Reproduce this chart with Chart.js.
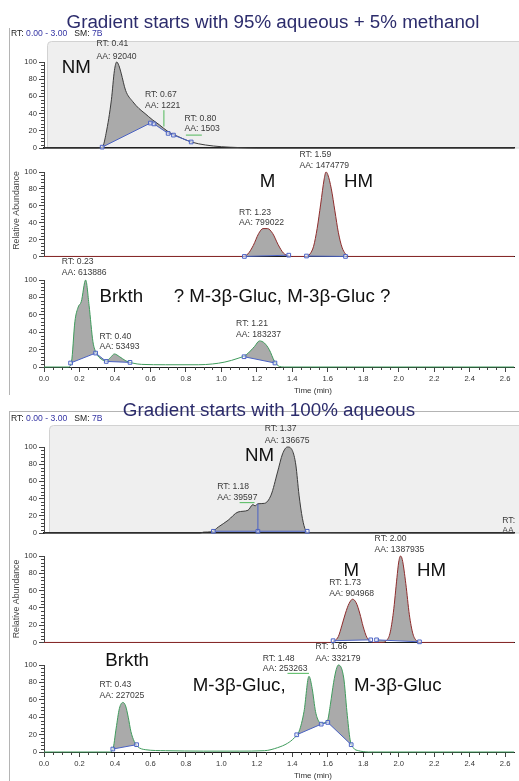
<!DOCTYPE html>
<html lang="en">
<head>
    <meta charset="UTF-8">
    <title>Chromatograms</title>
    <script src="https://cdn.jsdelivr.net/npm/chart.js"></script>
    <style>
        body { margin: 0; background: #fff; }
        #fig { position: relative; width: 519px; height: 781px; overflow: hidden; background: #fff; }
        .frame { position: absolute; border: 0 solid #b4b4b4; }
        #frameTop { left: 9px; top: 28px; width: 510px; height: 367px; border-left-width: 1px; }
        #frameBot { left: 9px; top: 411px; width: 510px; height: 370px; border-left-width: 1px; border-top-width: 1px; }
        .plot { position: absolute; left: 0; width: 519px; }
        canvas { display: block; }
    </style>
</head>
<body>
<div id="fig">
    <div class="frame" id="frameTop"></div>
    <div class="frame" id="frameBot"></div>
    <div class="plot" style="top:0px"><canvas id="p1"></canvas></div>
    <div class="plot" style="top:140px"><canvas id="p2"></canvas></div>
    <div class="plot" style="top:250px"><canvas id="p3"></canvas></div>
    <div class="plot" style="top:395px"><canvas id="p4"></canvas></div>
    <div class="plot" style="top:530px"><canvas id="p5"></canvas></div>
    <div class="plot" style="top:640px"><canvas id="p6"></canvas></div>
</div>

<script>
    // axis ticks
    const xTickValues = [0, 0.2, 0.4, 0.6, 0.8, 1.0, 1.2, 1.4, 1.6, 1.8, 2.0, 2.2, 2.4, 2.6];
    const xTickLabels = ['0.0', '0.2', '0.4', '0.6', '0.8', '1.0', '1.2', '1.4', '1.6', '1.8', '2.0', '2.2', '2.4', '2.6'];
    const yTickValues = [0, 20, 40, 60, 80, 100];
    const yTickLabels = ['0', '20', '40', '60', '80', '100'];

    // panel A: gradient starts with 95% aqueous + 5% methanol
    const timeA1 = [0, 0.30, 0.33, 0.35, 0.38, 0.397, 0.41, 0.422, 0.435, 0.46, 0.50, 0.535, 0.57, 0.61, 0.65, 0.70, 0.76, 0.83, 0.91, 1.0, 1.1, 1.2, 2.65];
    const absA1 = [0, 0, 1.5, 17, 56, 90, 100, 96, 87, 67, 54, 46, 40, 33, 27, 19, 13, 7, 3.5, 1.5, 0.5, 0, 0];
    const baseTimeA1 = [0.328, 0.60, 0.62, 0.70, 0.73, 0.83];
    const baseAbsA1 = [1, 29, 28, 17, 15, 7];

    const timeA2 = [0, 1.12, 1.15, 1.18, 1.21, 1.235, 1.26, 1.29, 1.32, 1.35, 1.38, 1.40, 1.48, 1.50, 1.52, 1.54, 1.56, 1.58, 1.59, 1.60, 1.62, 1.64, 1.66, 1.68, 1.70, 1.72, 2.65];
    const absA2 = [0, 0, 3, 13, 27, 33, 33, 27, 14, 4, 0.5, 0, 0, 3, 12, 33, 62, 92, 100, 97, 80, 54, 28, 11, 3, 0, 0];
    const baseTimeA2 = [1.13, 1.38, 1.38, 1.48, 1.70];
    const baseAbsA2 = [0, 1.5, null, 0.5, 0];

    const timeA3 = [0, 0.137, 0.155, 0.174, 0.193, 0.21, 0.235, 0.254, 0.276, 0.295, 0.323, 0.351, 0.375, 0.397, 0.425, 0.462, 0.50, 0.55, 0.685, 0.87, 0.95, 1.02, 1.094, 1.14, 1.187, 1.215, 1.243, 1.27, 1.30, 1.327, 1.355, 2.65];
    const absA3 = [0, 0, 6, 52, 69, 75, 100, 71, 29, 16, 9, 7, 11, 15, 12, 7, 4.5, 3, 2.6, 2.6, 3.5, 5.7, 10, 14, 23.6, 30, 27.5, 20, 6.4, 0.7, 0, 0];
    const baseTimeA3 = [0.15, 0.291, 0.351, 0.485, 0.485, 1.128, 1.302];
    const baseAbsA3 = [4.6, 16, 6.4, 5.3, null, 11.8, 4.6];

    // panel B: gradient starts with 100% aqueous
    const timeB1 = [0, 0.88, 0.90, 0.945, 0.983, 1.038, 1.094, 1.15, 1.178, 1.19, 1.206, 1.243, 1.28, 1.317, 1.345, 1.373, 1.40, 1.42, 1.438, 1.457, 1.475, 1.49, 2.65];
    const absB1 = [0, 0, 1, 1.5, 7, 14.8, 24.4, 26.4, 33, 31.5, 34, 34.5, 44, 71, 92, 100, 96, 79, 44, 17, 3, 0.5, 0];
    const baseTimeB1 = [0.955, 1.206, 1.484];
    const baseAbsB1 = [2, 2, 2];
    const splitTimeB1 = [1.206, 1.206];
    const splitAbsB1 = [2, 34];

    const timeB2 = [0, 1.62, 1.64, 1.66, 1.68, 1.70, 1.72, 1.74, 1.76, 1.78, 1.80, 1.82, 1.84, 1.86, 1.91, 1.93, 1.95, 1.97, 1.99, 2.00, 2.01, 2.02, 2.04, 2.06, 2.08, 2.10, 2.12, 2.65];
    const absB2 = [0, 0, 2, 7, 20, 34, 45, 50, 46, 34, 18, 6, 1.5, 0, 0, 2, 10, 35, 75, 93, 100, 96, 68, 32, 10, 2, 0, 0];
    const baseTimeB2 = [1.63, 1.842, 1.842, 1.875, 2.117];
    const baseAbsB2 = [2, 3, null, 3, 0.7];

    const timeB3 = [0, 0.37, 0.388, 0.407, 0.425, 0.445, 0.46, 0.475, 0.49, 0.509, 0.527, 0.574, 0.685, 0.9, 1.1, 1.243, 1.317, 1.373, 1.41, 1.438, 1.466, 1.494, 1.512, 1.531, 1.55, 1.568, 1.587, 1.60, 1.615, 1.633, 1.648, 1.66, 1.69, 1.708, 1.726, 1.745, 1.773, 1.80, 1.83, 2.65];
    const absB3 = [0, 0, 3, 27.5, 50, 57, 53, 40, 23.6, 12, 6.4, 2.6, 1.5, 1, 1, 1.5, 5, 10, 16, 23.6, 46.5, 87, 73, 46.5, 35, 33, 34, 37, 55, 80, 95, 100, 85, 46.5, 14, 4.6, 1.5, 0.5, 0, 0];
    const baseTimeB3 = [0.388, 0.522, 0.522, 1.425, 1.563, 1.60, 1.732];
    const baseAbsB3 = [3.4, 8.4, null, 19.8, 32, 34, 8.4];

    const xMax = 2.65;
    const FONT = '"Liberation Sans", Arial, sans-serif';
    Chart.defaults.font.family = FONT;

    const traceGrey = '#3c3c3c';
    const traceRed = '#8e2c2c';
    const traceGreen = '#3f9b5c';
    const fillGrey = '#aaaaaa';
    const baseBlue = '#4a62c4';
    const leaderGreen = '#4fb85a';

    function pts(t, v) {
        return t.map((x, i) => ({ x: x, y: v[i] }));
    }

    // titles, grey selection box, minor ticks, peak labels
    function decor(cfg) {
        return {
            id: 'decor',
            beforeDraw(chart) {
                const ctx = chart.ctx, a = chart.chartArea;
                ctx.save();
                if (cfg.box) {
                    const b = cfg.box;
                    ctx.fillStyle = '#efefef';
                    ctx.strokeStyle = '#d2d2d2';
                    ctx.lineWidth = 1;
                    ctx.beginPath();
                    ctx.moveTo(b.left + 0.5, a.bottom);
                    ctx.lineTo(b.left + 0.5, b.top + 4.5);
                    ctx.quadraticCurveTo(b.left + 0.5, b.top + 0.5, b.left + 4.5, b.top + 0.5);
                    ctx.lineTo(chart.width + 2, b.top + 0.5);
                    ctx.lineTo(chart.width + 2, a.bottom);
                    ctx.closePath();
                    ctx.fill();
                    ctx.stroke();
                }
                if (cfg.title) {
                    ctx.font = '18.8px ' + FONT;
                    ctx.fillStyle = '#2c2c6c';
                    ctx.textAlign = 'center';
                    ctx.textBaseline = 'alphabetic';
                    ctx.fillText(cfg.title.text, cfg.title.x, cfg.title.y);
                }
                if (cfg.header) {
                    ctx.font = '8.6px ' + FONT;
                    ctx.textAlign = 'left';
                    ctx.textBaseline = 'middle';
                    let hx = cfg.header.x;
                    [['RT: ', '#222'], ['0.00 - 3.00', '#3434a4'], ['   SM: ', '#222'], ['7B', '#3434a4']].forEach(([s, c]) => {
                        ctx.fillStyle = c;
                        ctx.fillText(s, hx, cfg.header.y);
                        hx += ctx.measureText(s).width;
                    });
                }
                ctx.restore();
            },
            afterDraw(chart) {
                const ctx = chart.ctx, a = chart.chartArea;
                const x = chart.scales.x, y = chart.scales.y;
                ctx.save();
                ctx.strokeStyle = '#444';
                ctx.lineWidth = 1;
                ctx.beginPath();
                for (let i = 0; i <= 25; i++) {
                    if (i % 5 === 0) continue;
                    const py = Math.round(y.getPixelForValue(i * 4)) + 0.5;
                    ctx.moveTo(a.left - 3, py);
                    ctx.lineTo(a.left, py);
                }
                if (cfg.xAxis) {
                    for (let i = 0; i * 0.05 <= xMax; i++) {
                        if (i % 4 === 0) continue;
                        const px = Math.round(x.getPixelForValue(i * 0.05)) + 0.5;
                        ctx.moveTo(px, a.bottom);
                        ctx.lineTo(px, a.bottom + 3);
                    }
                }
                ctx.stroke();

                ctx.strokeStyle = leaderGreen;
                (cfg.leaders || []).forEach(l => {
                    ctx.beginPath();
                    ctx.moveTo(x.getPixelForValue(l[0]), y.getPixelForValue(l[1]));
                    ctx.lineTo(x.getPixelForValue(l[2]), y.getPixelForValue(l[3]));
                    ctx.stroke();
                });

                ctx.textAlign = 'left';
                ctx.textBaseline = 'middle';
                (cfg.notes || []).forEach(n => {
                    ctx.font = (n.big ? '18.7px ' : '8.6px ') + FONT;
                    ctx.fillStyle = n.big ? '#111' : '#3a3a3a';
                    ctx.fillText(n.text, x.getPixelForValue(n.t), y.getPixelForValue(n.v));
                });

                if (cfg.yTitle) {
                    ctx.save();
                    ctx.font = '8.8px ' + FONT;
                    ctx.fillStyle = '#444';
                    ctx.textAlign = 'center';
                    ctx.translate(cfg.yTitle.x, cfg.yTitle.y);
                    ctx.rotate(-Math.PI / 2);
                    ctx.fillText('Relative Abundance', 0, 0);
                    ctx.restore();
                }
                if (cfg.xTitle) {
                    ctx.font = '8px ' + FONT;
                    ctx.fillStyle = '#333';
                    ctx.textAlign = 'center';
                    ctx.fillText('Time (min)', cfg.xTitle.x, cfg.xTitle.y);
                }
                ctx.restore();
            }
        };
    }

    function plot(id, cfg) {
        const canvas = document.getElementById(id);
        canvas.width = 519;
        canvas.height = cfg.height;

        const datasets = [];
        if (cfg.split) {
            datasets.push({
                data: pts(cfg.split[0], cfg.split[1]),
                borderColor: baseBlue, borderWidth: 1, pointRadius: 0, fill: false, clip: 4
            });
        }
        datasets.push({
            data: pts(cfg.base[0], cfg.base[1]),
            borderColor: baseBlue, borderWidth: 1, fill: false, spanGaps: false, clip: 4,
            pointStyle: 'rect', pointRadius: 2.6, pointBorderWidth: 1,
            pointBorderColor: baseBlue, pointBackgroundColor: 'rgba(255,255,255,0.55)'
        });
        datasets.push({
            data: pts(cfg.trace[0], cfg.trace[1]),
            borderColor: cfg.color, borderWidth: 1, pointRadius: 0, clip: 4,
            cubicInterpolationMode: 'monotone',
            fill: '-1', backgroundColor: fillGrey
        });

        new Chart(canvas, {
            type: 'line',
            data: { datasets: datasets },
            options: {
                responsive: false,
                animation: false,
                events: [],
                layout: { padding: { top: cfg.padTop, bottom: cfg.padBottom, left: 0, right: 0 } },
                plugins: { legend: { display: false }, tooltip: { enabled: false } },
                scales: {
                    x: {
                        type: 'linear', min: 0, max: xMax,
                        afterFit: s => { s.height = cfg.xAxis ? cfg.xAxisHeight : 0; },
                        afterBuildTicks: s => { s.ticks = xTickValues.map(v => ({ value: v })); },
                        ticks: {
                            display: !!cfg.xAxis, autoSkip: false, maxRotation: 0, padding: 2,
                            font: { size: 7.6 }, color: '#333',
                            callback: (v, i) => xTickLabels[i]
                        },
                        grid: { display: !!cfg.xAxis, drawOnChartArea: false, tickLength: 5, color: '#444' },
                        border: { display: true, color: '#1e1e1e', width: cfg.axisWidth || 1 }
                    },
                    y: {
                        min: 0, max: 100,
                        afterFit: s => { s.width = 44; },
                        afterBuildTicks: s => { s.ticks = yTickValues.map(v => ({ value: v })); },
                        ticks: {
                            padding: 2, font: { size: 7.6 }, color: '#333',
                            callback: (v, i) => yTickLabels[i]
                        },
                        grid: { drawOnChartArea: false, tickLength: 5, color: '#444' },
                        border: { display: true, color: '#444' }
                    }
                }
            },
            plugins: [decor(cfg)]
        });
    }

    plot('p1', {
        height: 156, padTop: 62, padBottom: 8, axisWidth: 1.5,
        trace: [timeA1, absA1], base: [baseTimeA1, baseAbsA1], color: traceGrey,
        box: { left: 47, top: 41 },
        title: { text: 'Gradient starts with 95% aqueous + 5% methanol', x: 273, y: 28 },
        header: { x: 11, y: 34 },
        leaders: [[0.676, 25, 0.676, 44], [0.80, 15, 0.89, 15]],
        notes: [
            { text: 'NM', t: 0.10, v: 93, big: true },
            { text: 'RT: 0.41', t: 0.296, v: 121 },
            { text: 'AA: 92040', t: 0.296, v: 106 },
            { text: 'RT: 0.67', t: 0.569, v: 61.6 },
            { text: 'AA: 1221', t: 0.569, v: 48.8 },
            { text: 'RT: 0.80', t: 0.792, v: 33.7 },
            { text: 'AA: 1503', t: 0.792, v: 22 }
        ]
    });

    plot('p2', {
        height: 123, padTop: 32, padBottom: 6,
        trace: [timeA2, absA2], base: [baseTimeA2, baseAbsA2], color: traceRed,
        yTitle: { x: 17, y: 70.5 },
        notes: [
            { text: 'M', t: 1.217, v: 88.3, big: true },
            { text: 'HM', t: 1.691, v: 88.3, big: true },
            { text: 'RT: 1.59', t: 1.44, v: 120.7 },
            { text: 'AA: 1474779', t: 1.44, v: 107.8 },
            { text: 'RT: 1.23', t: 1.10, v: 52 },
            { text: 'AA: 799022', t: 1.10, v: 40 }
        ]
    });

    plot('p3', {
        height: 145, padTop: 30, padBottom: 0, xAxis: true, xAxisHeight: 28,
        trace: [timeA3, absA3], base: [baseTimeA3, baseAbsA3], color: traceGreen,
        xTitle: { x: 313, y: 140.7 },
        notes: [
            { text: 'Brkth', t: 0.3125, v: 81, big: true },
            { text: '? M-3\u03b2-Gluc, M-3\u03b2-Gluc ?', t: 0.731, v: 81, big: true },
            { text: 'RT: 0.23', t: 0.10, v: 120.6 },
            { text: 'AA: 613886', t: 0.10, v: 108 },
            { text: 'RT: 0.40', t: 0.3125, v: 35 },
            { text: 'AA: 53493', t: 0.3125, v: 23 },
            { text: 'RT: 1.21', t: 1.083, v: 49.6 },
            { text: 'AA: 183237', t: 1.083, v: 37 }
        ]
    });

    plot('p4', {
        height: 146, padTop: 52, padBottom: 8, axisWidth: 1.5,
        trace: [timeB1, absB1], base: [baseTimeB1, baseAbsB1], split: [splitTimeB1, splitAbsB1], color: traceGrey,
        box: { left: 49, top: 30 },
        title: { text: 'Gradient starts with 100% aqueous', x: 269, y: 21 },
        header: { x: 11, y: 24 },
        leaders: [[1.103, 35.3, 1.187, 35.3]],
        notes: [
            { text: 'NM', t: 1.133, v: 89.5, big: true },
            { text: 'RT: 1.37', t: 1.244, v: 121.4 },
            { text: 'AA: 136675', t: 1.244, v: 107.8 },
            { text: 'RT: 1.18', t: 0.977, v: 53.5 },
            { text: 'AA: 39597', t: 0.977, v: 41.2 },
            { text: 'RT:', t: 2.584, v: 14.8 },
            { text: 'AA', t: 2.584, v: 3.1 }
        ]
    });

    plot('p5', {
        height: 119, padTop: 26, padBottom: 6,
        trace: [timeB2, absB2], base: [baseTimeB2, baseAbsB2], color: traceRed,
        yTitle: { x: 17, y: 69 },
        notes: [
            { text: 'M', t: 1.689, v: 82.9, big: true },
            { text: 'HM', t: 2.103, v: 82.9, big: true },
            { text: 'RT: 2.00', t: 1.864, v: 120.2 },
            { text: 'AA: 1387935', t: 1.864, v: 107.6 },
            { text: 'RT: 1.73', t: 1.608, v: 69.2 },
            { text: 'AA: 904968', t: 1.608, v: 57 }
        ]
    });

    plot('p6', {
        height: 141, padTop: 25, padBottom: 0, xAxis: true, xAxisHeight: 29,
        trace: [timeB3, absB3], base: [baseTimeB3, baseAbsB3], color: traceGreen,
        xTitle: { x: 313, y: 135.7 },
        leaders: [[1.373, 90.4, 1.494, 90.4]],
        notes: [
            { text: 'Brkth', t: 0.346, v: 104.6, big: true },
            { text: 'M-3\u03b2-Gluc,', t: 0.839, v: 76.3, big: true },
            { text: 'M-3\u03b2-Gluc', t: 1.748, v: 76.3, big: true },
            { text: 'RT: 0.43', t: 0.3125, v: 77 },
            { text: 'AA: 227025', t: 0.3125, v: 64.8 },
            { text: 'RT: 1.48', t: 1.233, v: 107.7 },
            { text: 'AA: 253263', t: 1.233, v: 95.4 },
            { text: 'RT: 1.66', t: 1.531, v: 120.6 },
            { text: 'AA: 332179', t: 1.531, v: 107.7 }
        ]
    });
</script>
</body>
</html>
